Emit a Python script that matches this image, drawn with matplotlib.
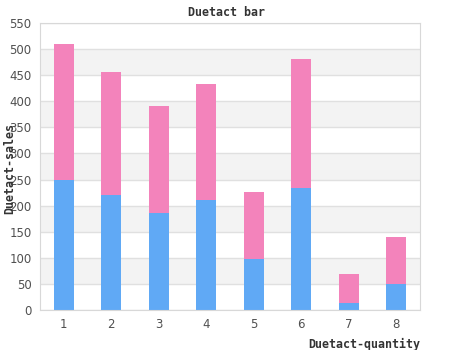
import matplotlib
matplotlib.use("Agg")
import matplotlib.pyplot as plt

categories = ["1", "2", "3", "4", "5", "6", "7", "8"]
blue_vals = [250, 220, 185, 210, 98, 234, 13, 50]
pink_vals = [260, 236, 206, 223, 128, 247, 56, 90]
yticks = list(range(0, 551, 50))

fig = plt.figure(figsize=(4.5, 3.5), dpi=100)
ax = fig.add_axes([40/450, 40/350, 380/450, 287/350])

x = list(range(1, len(categories) + 1))
for lo in range(50, 550, 100):
    ax.axhspan(lo, lo + 50, color="#f3f3f3", zorder=0, lw=0)
for t in yticks:
    ax.axhline(t, color="#e0e0e0", lw=1, zorder=1)

ax.bar(x, blue_vals, width=0.42, color="#60a9f5", zorder=2)
ax.bar(x, pink_vals, bottom=blue_vals, width=0.42, color="#f383bb", zorder=2)

ax.set_xlim(0.5, 8.5)
ax.set_ylim(0, 550)
ax.set_xticks(x)
ax.set_xticklabels(categories)
ax.set_yticks(yticks)
for s in ax.spines.values():
    s.set_color("#d8d8d8")
ax.tick_params(length=0, colors="#505050", labelsize=8.5, pad=6)

fig.text(226/450, 1 - 13/350, "Duetact bar", ha="center", va="center",
         family="DejaVu Sans Mono", weight="bold", fontsize=8.4, color="#333333")
fig.text(10/450, 1 - 168/350, "Duetact-sales", ha="center", va="center", rotation=90,
         family="DejaVu Sans Mono", weight="bold", fontsize=8.4, color="#333333")
fig.text(420/450, 1 - 344/350, "Duetact-quantity", ha="right", va="center",
         family="DejaVu Sans Mono", weight="bold", fontsize=8.4, color="#333333")

fig.savefig("out.png", dpi=100)
